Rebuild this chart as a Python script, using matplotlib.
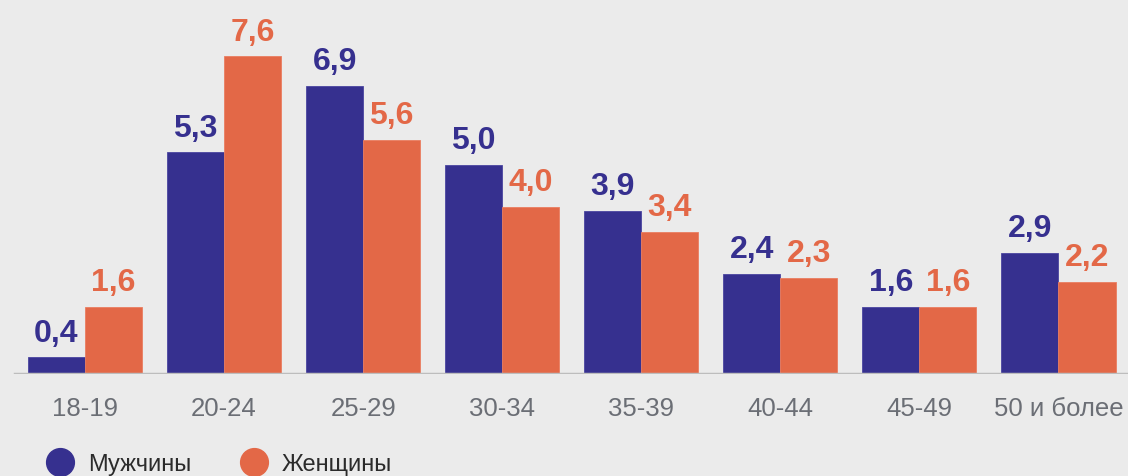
import numpy as np
import matplotlib.pyplot as plt
from matplotlib.lines import Line2D

# Age groups and shares (%)
categories = ['18-19', '20-24', '25-29', '30-34', '35-39', '40-44', '45-49', '50 и более']
men = [0.4, 5.3, 6.9, 5.0, 3.9, 2.4, 1.6, 2.9]
women = [1.6, 7.6, 5.6, 4.0, 3.4, 2.3, 1.6, 2.2]
series_names = ['Мужчины', 'Женщины']

blue = '#36308F'
orange = '#E36847'
bg = '#EBEBEB'

plt.rcParams['font.family'] = ['Liberation Sans', 'DejaVu Sans']

fig = plt.figure(figsize=(11.28, 4.77), dpi=100, facecolor=bg)
ax = fig.add_axes([0, 102 / 477, 1, 375 / 477])
ax.set_facecolor(bg)

x = np.arange(len(categories))
w = 0.41
b1 = ax.bar(x - w / 2, men, w, color=blue, edgecolor='#4a45a0', linewidth=0.6)
b2 = ax.bar(x + w / 2, women, w, color=orange, edgecolor='#ea7d60', linewidth=0.6)

for bars, vals, col in [(b1, men, blue), (b2, women, orange)]:
    for r, v in zip(bars, vals):
        ax.annotate(f'{v:.1f}'.replace('.', ','),
                    (r.get_x() + r.get_width() / 2, v),
                    xytext=(0, 12), textcoords='offset points',
                    ha='center', va='baseline', fontsize=23,
                    fontweight='bold', color=col)

unit = 139.07
ax.set_xlim(-85 / unit, (1128 - 85) / unit)
ax.set_ylim(0, 375 / 41.8)
for s in ax.spines.values():
    s.set_visible(False)
ax.axhline(0, xmin=15 / 1128, xmax=1, color='#bdbdbd', linewidth=2.5, zorder=3)
ax.set_yticks([])
ax.set_xticks(x)
ax.set_xticklabels(categories, fontsize=18.5, color='#6b6e75')
ax.tick_params(axis='x', length=0, pad=16)

# legend
for xp, name, col in [(60, series_names[0], blue), (254, series_names[1], orange)]:
    fig.add_artist(Line2D([xp / 1128], [(477 - 463) / 477], marker='o', markersize=20,
                          color=col, transform=fig.transFigure, linestyle='none'))
    fig.text((xp + 28) / 1128, (477 - 465) / 477, name, fontsize=17,
             color='#2b2b2b', va='center', ha='left')

fig.savefig('out.png', dpi=100, facecolor=bg)
